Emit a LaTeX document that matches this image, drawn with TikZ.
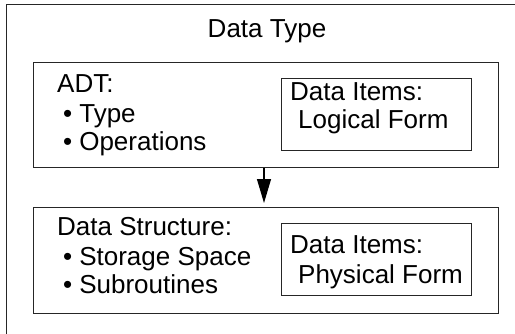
\documentclass[tikz,border=0pt]{standalone}
\usepackage{fontspec}
\setmainfont{Liberation Sans}
\usetikzlibrary{arrows.meta}
\begin{document}
\begin{tikzpicture}[x=1pt,y=-1pt,
  box/.style={draw=black!85,line width=1.1pt,minimum width=#1,inner sep=0pt,anchor=north west},
  txt/.style={anchor=base west,inner sep=0pt,font=\fontsize{26}{30}\selectfont},
  ctxt/.style={anchor=base,inner sep=0pt,font=\fontsize{26}{30}\selectfont}]
\useasboundingbox (0,0) rectangle (515,333);
\fill[white] (0,0) rectangle (515,333);
\begin{scope}
\clip (0,0) rectangle (515,333);
\node[box=540pt,minimum height=360pt] (outer) at (6,4) {};
\end{scope}
\node[ctxt] (title) at (267,37) {Data Type};
% ADT box
\node[box=465pt,minimum height=105pt] (adt) at (33,62) {};
\node[box=190pt,minimum height=72pt] (logical) at (281,78) {};
\node[txt] (adtlbl) at (57,92) {ADT:};
\node[txt] (type) at (63,122) {•\hspace{7pt}Type};
\node[txt] (ops) at (63,150) {•\hspace{7pt}Operations};
\node[txt] (di1) at (290,100) {Data Items:};
\node[txt] (lf) at (298,128) {Logical Form};
% Data structure box
\node[box=465pt,minimum height=106pt] (ds) at (33,207) {};
\node[box=190pt,minimum height=72pt] (physical) at (281,223) {};
\node[txt] (dslbl) at (57,235) {Data Structure:};
\node[txt] (stor) at (63,265) {•\hspace{7pt}Storage Space};
\node[txt] (subr) at (63,293) {•\hspace{7pt}Subroutines};
\node[txt] (di2) at (290,253) {Data Items:};
\node[txt] (pf) at (298,283) {Physical Form};
% arrow
\draw[line width=1.1pt,-{Triangle[length=24pt,width=14pt]},shorten >=4pt] (adt.south -| 264,0) -- (ds.north -| 264,0);
\end{tikzpicture}
\end{document}
